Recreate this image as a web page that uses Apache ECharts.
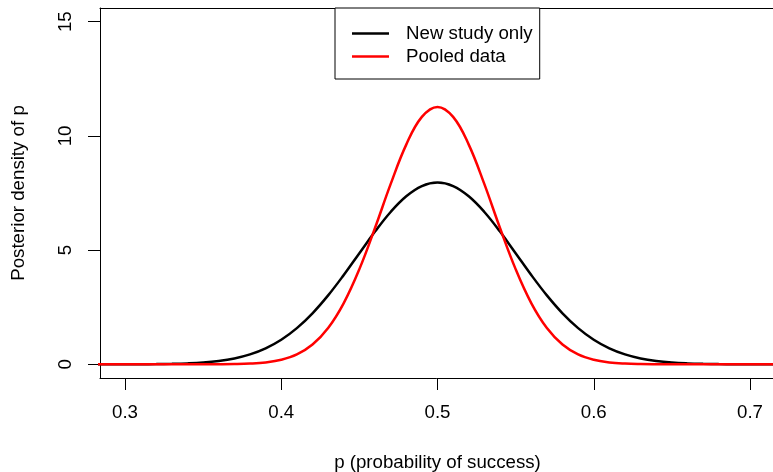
<!DOCTYPE html>
<html>
<head>
<meta charset="utf-8">
<script src="https://cdn.jsdelivr.net/npm/echarts@6/dist/echarts.min.js"></script>
<style>html,body{margin:0;padding:0;background:#fff;}#chart{width:773px;height:472px;}</style>
</head>
<body>
<div id="chart"></div>
<script>
// p grid (x values)
var pValues = [0.28,0.29,0.30,0.31,0.32,0.33,0.34,0.35,0.36,0.37,0.38,0.39,0.40,0.41,0.42,0.43,0.44,0.45,0.46,0.47,0.48,0.49,0.50,0.51,0.52,0.53,0.54,0.55,0.56,0.57,0.58,0.59,0.60,0.61,0.62,0.63,0.64,0.65,0.66,0.67,0.68,0.69,0.70,0.71,0.72];
// Posterior density, new study only (black)
var newStudy = [0.0002,0.0006,0.0016,0.0038,0.0089,0.0194,0.040,0.078,0.146,0.258,0.435,0.700,1.077,1.585,2.233,3.017,3.910,4.864,5.811,6.670,7.358,7.805,7.96,7.805,7.358,6.670,5.811,4.864,3.910,3.017,2.233,1.585,1.077,0.700,0.435,0.258,0.146,0.078,0.040,0.0194,0.0089,0.0038,0.0016,0.0006,0.0002];
// Posterior density, pooled data (red)
var pooled = [0,0,0,0,0,0,0,0.001,0.0035,0.011,0.032,0.083,0.198,0.432,0.865,1.588,2.681,4.167,5.969,7.886,9.618,10.832,11.27,10.832,9.618,7.886,5.969,4.167,2.681,1.588,0.865,0.432,0.198,0.083,0.032,0.011,0.0035,0.001,0,0,0,0,0,0,0];
var xTicks = [0.3,0.4,0.5,0.6,0.7];
var yTicks = [0,5,10,15];
var seriesNames = ['New study only','Pooled data'];

function pairs(xs, ys){ return xs.map(function(x,i){ return [x, ys[i]]; }); }

var FONT = 'Liberation Sans, Arial, Helvetica, sans-serif';
var FS = 18.7;
var chart = echarts.init(document.getElementById('chart'));
chart.setOption({
  animation: false,
  backgroundColor: '#ffffff',
  textStyle: {fontFamily: FONT, color: '#000'},
  grid: {left: 100, top: 8, right: -2, bottom: 94, containLabel: false, outerBoundsMode: 'none'},
  xAxis: [{
    type: 'value', min: 0.284, max: 0.716,
    name: 'p (probability of success)', nameLocation: 'middle', nameGap: 75,
    nameTextStyle: {fontFamily: FONT, fontSize: FS, color: '#000'},
    axisLine: {show: true, onZero: false, lineStyle: {color: '#000', width: 1}},
    axisTick: {show: true, inside: false, length: 12, customValues: xTicks, lineStyle: {color: '#000', width: 1}},
    axisLabel: {show: true, margin: 25, customValues: xTicks, fontFamily: FONT, fontSize: FS, color: '#000',
      formatter: function(v){ return v.toFixed(1); }},
    splitLine: {show: false}
  }, {
    type: 'value', position: 'top', min: 0.284, max: 0.716,
    axisLine: {show: true, onZero: false, lineStyle: {color: '#000', width: 1}},
    axisTick: {show: false}, axisLabel: {show: false}, splitLine: {show: false}
  }],
  yAxis: [{
    type: 'value', min: -0.6, max: 15.6,
    name: 'Posterior density of p', nameLocation: 'middle', nameGap: 72,
    nameTextStyle: {fontFamily: FONT, fontSize: FS, color: '#000'},
    axisLine: {show: true, onZero: false, lineStyle: {color: '#000', width: 1}},
    axisTick: {show: true, inside: false, length: 12, customValues: yTicks, lineStyle: {color: '#000', width: 1}},
    axisLabel: {show: true, rotate: 90, margin: 25, customValues: yTicks, fontFamily: FONT, fontSize: FS, color: '#000'},
    splitLine: {show: false}
  }, {
    type: 'value', position: 'right', min: -0.6, max: 15.6,
    axisLine: {show: true, onZero: false, lineStyle: {color: '#000', width: 1}},
    axisTick: {show: false}, axisLabel: {show: false}, splitLine: {show: false}
  }],
  legend: {
    show: true, orient: 'vertical', left: 335, top: 8,
    padding: [15, 7, 12, 17], itemGap: 2, itemWidth: 37, itemHeight: 2.5, icon: 'rect',
    borderColor: '#000', borderWidth: 1, backgroundColor: '#fff',
    textStyle: {fontFamily: FONT, fontSize: FS, color: '#000', padding: [0, 0, 0, 12], lineHeight: 21},
    data: seriesNames
  },
  series: [{
    name: seriesNames[0], type: 'line', data: pairs(pValues, newStudy),
    smooth: 0.4, symbol: 'none', clip: true,
    lineStyle: {color: '#000000', width: 2.5}, itemStyle: {color: '#000000'}
  }, {
    name: seriesNames[1], type: 'line', data: pairs(pValues, pooled),
    smooth: 0.4, symbol: 'none', clip: true,
    lineStyle: {color: '#ff0000', width: 2.5}, itemStyle: {color: '#ff0000'}
  }]
});
</script>
</body>
</html>
